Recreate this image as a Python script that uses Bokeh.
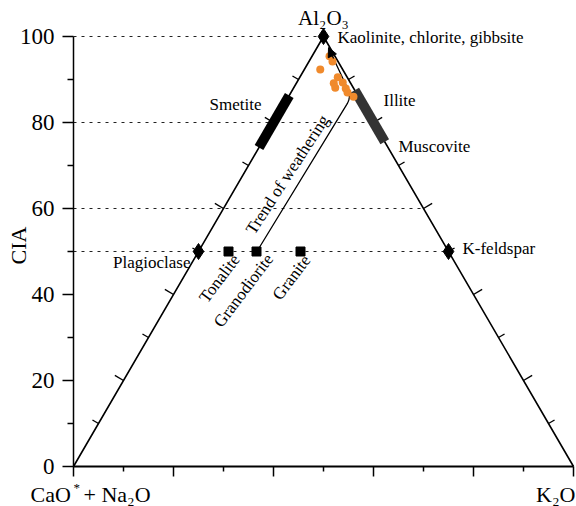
import math
from bokeh.plotting import figure
from bokeh.models import Range1d, FixedTicker, Label, Arrow, NormalHead, LinearAxis
from bokeh.embed import file_html
from bokeh.resources import INLINE

FONT = "Liberation Serif"

# ---------------- data (A-CN-K ternary, molar %) ----------------
cia_ticks = [0, 20, 40, 60, 80, 100]
cia_minor_ticks = [10, 30, 50, 70, 90]
base_major_ticks = [0, 20, 40, 60, 80, 100]
base_minor_ticks = [10, 30, 50, 70, 90]
side_ticks = [10, 20, 30, 40, 50, 60, 70, 80, 90]
guide_cia = [100, 80, 60, 50]

sample_cia = [95.4, 94.2, 92.3, 90.5, 89.1, 89.3, 87.9, 88.1, 87.0, 86.0]
sample_k = [3.5, 4.7, 3.2, 7.6, 7.5, 9.2, 10.5, 8.3, 11.3, 13.0]

mineral_names = ["Kaolinite, chlorite, gibbsite", "Plagioclase", "K-feldspar"]
mineral_cia = [100, 50, 50]
mineral_k = [0, 0, 50]

rock_names = ["Tonalite", "Granodiorite", "Granite"]
rock_cia = [50, 50, 50]
rock_k = [6.0, 11.6, 20.4]

smectite_cia = [74.2, 86.3]   # on the A - CN join (K = 0)
illite_cia = [75.5, 87.5]     # on the A - K join (CN = 0)

trend_cia = [50.7, 86.0, 97.4]
trend_k = [11.7, 12.6, 2.3]

# ---------------- geometry helpers ----------------
PXX, PXY = 5.0, 4.3           # pixels per unit (x, y)
OX, OY = 73, 466              # pixel position of (0, 0)
W, H = 576, 506


def tx(a, k):
    return k + a / 2.0


def ty(a):
    return a


p = figure(width=W, height=H, output_backend="svg", toolbar_location=None,
           x_range=Range1d(-OX / PXX, (W - OX) / PXX),
           y_range=Range1d(-(H - OY) / PXY, OY / PXY),
           x_axis_location=None, y_axis_location=None,
           min_border_left=0, min_border_right=0, min_border_top=0,
           min_border_bottom=0)
p.outline_line_color = None
p.grid.visible = False
p.background_fill_color = "white"
p.border_fill_color = "white"

# y axis (CIA), fixed at x = 0
ya = LinearAxis(fixed_location=0)
ya.ticker = FixedTicker(ticks=cia_ticks, minor_ticks=cia_minor_ticks)
ya.bounds = (0, 100)
ya.axis_line_width = 1.5
ya.major_tick_line_width = 1.5
ya.minor_tick_line_width = 1.5
ya.major_tick_in = 0
ya.major_tick_out = 11
ya.minor_tick_in = 0
ya.minor_tick_out = 6
ya.major_label_standoff = 8
ya.major_label_text_font = FONT
ya.major_label_text_font_size = "23px"
ya.major_label_text_color = "black"
p.add_layout(ya, "left")

# x axis (triangle base), fixed at y = 0
xa = LinearAxis(fixed_location=0)
xa.ticker = FixedTicker(ticks=base_major_ticks, minor_ticks=base_minor_ticks)
xa.bounds = (0, 100)
xa.axis_line_width = 1.8
xa.major_tick_line_width = 1.5
xa.minor_tick_line_width = 1.5
xa.major_tick_in = 0
xa.major_tick_out = 10
xa.minor_tick_in = 0
xa.minor_tick_out = 5
xa.major_label_overrides = {t: "" for t in base_major_ticks}
p.add_layout(xa, "below")

# guide dotted lines
gx = [[0, tx(g, 100 - g)] for g in guide_cia]
gy = [[g, g] for g in guide_cia]
p.multi_line(gx, gy, line_color="#222222", line_width=1.2, line_dash="3 5")

# triangle
p.line([tx(0, 0), tx(100, 0), tx(0, 100)], [0, 100, 0], line_color="black", line_width=1.6)

# side ticks, perpendicular to each side
ex, ey = 250.0, 430.0
n = math.hypot(ex, ey)
nx, ny = ey / n, ex / n
x0s, y0s, x1s, y1s = [], [], [], []
for a in side_ticks:
    L = 10 if a % 20 == 0 else 7
    lx, ly = tx(a, 0), ty(a)
    x0s.append(lx); y0s.append(ly)
    x1s.append(lx - nx * L / PXX); y1s.append(ly + ny * L / PXY)
    rx, ry = tx(a, 100 - a), ty(a)
    x0s.append(rx); y0s.append(ry)
    x1s.append(rx + nx * L / PXX); y1s.append(ry + ny * L / PXY)
p.segment(x0s, y0s, x1s, y1s, line_color="black", line_width=1.4)

# mineral bars
p.line([tx(a, 0) for a in smectite_cia], smectite_cia, line_color="black",
       line_width=10, line_cap="butt")
p.line([tx(a, 100 - a) for a in illite_cia], illite_cia, line_color="#333333",
       line_width=10, line_cap="butt")

# trend of weathering path with rounded corner
pts = [(tx(a, k) * PXX, ty(a) * PXY) for a, k in zip(trend_cia, trend_k)]
S, C, E = pts
r = 9.0


def toward(P, Q, d):
    L = math.hypot(Q[0] - P[0], Q[1] - P[1])
    return (P[0] + (Q[0] - P[0]) * d / L, P[1] + (Q[1] - P[1]) * d / L)


P1, P2 = toward(C, S, r), toward(C, E, r)
path = [S, P1]
for i in range(1, 12):
    t = i / 12
    path.append(((1 - t) ** 2 * P1[0] + 2 * (1 - t) * t * C[0] + t ** 2 * P2[0],
                 (1 - t) ** 2 * P1[1] + 2 * (1 - t) * t * C[1] + t ** 2 * P2[1]))
path.append(E)
p.line([q[0] / PXX for q in path], [q[1] / PXY for q in path], line_color="black", line_width=1.3)
H0 = toward(E, C, 12)
p.add_layout(Arrow(end=NormalHead(size=9, fill_color="black", line_color="black", line_width=1),
                   x_start=H0[0] / PXX, y_start=H0[1] / PXY, x_end=E[0] / PXX, y_end=E[1] / PXY,
                   line_color="black", line_width=1.3))

# end-member markers
p.scatter([tx(a, k) for a, k in zip(mineral_cia, mineral_k)], mineral_cia,
          marker="diamond", size=16, fill_color="black", line_color="black")
p.scatter([tx(a, k) for a, k in zip(rock_cia, rock_k)], rock_cia,
          marker="square", size=9, fill_color="black", line_color="black")

# samples
p.scatter([tx(a, k) for a, k in zip(sample_cia, sample_k)], sample_cia,
          marker="circle", size=8, fill_color="#F08A2C", line_color=None)


# ---------------- labels ----------------
def lab(x, y, text, size="17px", align="left", baseline="middle", angle=0.0):
    p.add_layout(Label(x=x, y=y, text=text, text_font=FONT, text_font_size=size,
                       text_align=align, text_baseline=baseline, angle=angle,
                       text_color="black"))


def px(xp, yp):
    return (xp - OX) / PXX, (OY - yp) / PXY


lab(*px(323, 17), "Al₂O₃", size="21px", align="center")
lab(*px(337, 37), mineral_names[0])
lab(*px(261, 104), "Smetite", align="right")
lab(*px(383, 100), "Illite")
lab(*px(398, 146), "Muscovite")
lab(*px(190, 262), mineral_names[1], align="right")
lab(*px(462, 248), mineral_names[2])
ang = math.radians(53)
lab(*px(219, 278), rock_names[0], align="center", angle=ang)
lab(*px(243, 290), rock_names[1], align="center", angle=ang)
lab(*px(291, 277), rock_names[2], align="center", angle=ang)
lab(*px(287, 174), "Trend of weathering", align="center", angle=math.radians(57))

lab(*px(18, 245), "CIA", size="22px", align="center", angle=math.pi / 2)
lab(*px(30, 494), "CaO", size="22px")
lab(*px(73, 487), "*", size="13px")
lab(*px(83, 494), "+ Na₂O", size="22px")
lab(*px(575, 494), "K₂O", size="22px", align="right")

open("out.html", "w").write(file_html(p, INLINE))
